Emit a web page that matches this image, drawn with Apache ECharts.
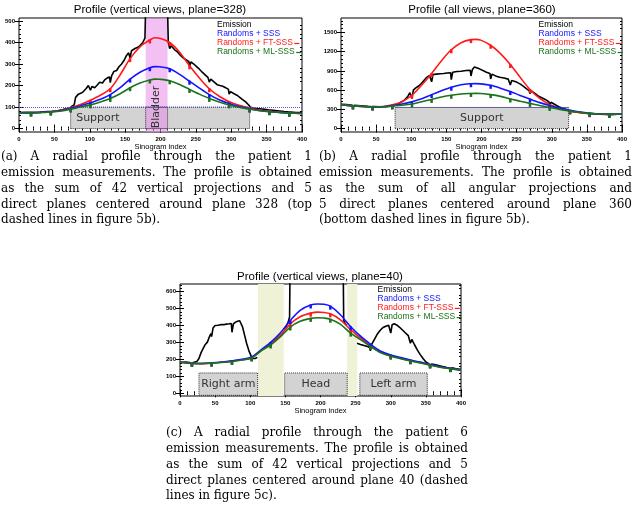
<!DOCTYPE html>
<html><head><meta charset="utf-8">
<script src="https://cdn.jsdelivr.net/npm/echarts@6/dist/echarts.min.js"></script>
<style>html,body{margin:0;padding:0;background:#fff}#c{width:635px;height:523px}</style>
</head><body><div id="c"></div>
<script>
// ---------- Plot (a) ----------
const titleA = 'Profile (vertical views, plane=328)';
const xModelA = [0,17,30,45,60,73,87,101,115,129,143,157,171,185,192,199,213,227,241,255,269,283,297,311,326,340,354,368,382,400];
const sssA = [72,73,75,78,84,94,106,120,136,158,190,230,262,283,288,287,278,252,220,188,158,134,116,102,92,84,79,75,72,70];
const ftA  = [72,73,75,78,86,97,112,132,155,185,250,325,380,412,422,420,400,355,292,235,185,150,125,108,95,86,80,76,72,70];
const mlA  = [72,72,74,77,82,90,100,110,123,140,162,190,212,226,230,229,222,205,182,160,140,124,110,99,90,83,78,75,72,70];
const gapsA = [17,45,73,101,129,157,185,213,241,269,297,326,354,382];
const emissionA = [[0,75],[10,76],[15,76],[17,69],[19,76],[30,77],[40,79],[44,79],[45,71],[47,80],[55,83],[62,88],[68,93],[72,95],[73,86],[75,104],[78,110],[80,145],[84,160],[88,165],[91,172],[95,186],[98,200],[100,196],[101,178],[103,196],[107,190],[110,200],[114,215],[118,212],[121,226],[125,236],[128,240],[129,214],[131,246],[134,265],[138,270],[141,286],[145,300],[149,320],[152,340],[155,352],[157,328],[159,362],[164,372],[168,378],[171,386],[175,400],[178,420],[180,700],[209,700],[211,400],[213,372],[215,385],[220,366],[224,356],[228,341],[232,329],[236,320],[240,312],[241,288],[243,310],[247,300],[251,288],[255,276],[259,262],[263,250],[267,238],[269,216],[271,230],[276,216],[280,204],[284,200],[288,197],[292,190],[296,182],[297,160],[299,172],[304,162],[308,155],[312,145],[316,135],[320,125],[324,112],[327,100],[330,95],[340,92],[350,88],[353,86],[354,79],[356,86],[365,83],[375,79],[381,77],[382,70],[384,77],[392,75],[400,74]];
const yMajorA = [0,100,200,300,400,500];

// ---------- Plot (b) ----------
const titleB = 'Profile (all views, plane=360)';
const xModelB = [0,17,30,45,60,73,87,101,115,129,143,157,171,185,192,199,213,227,241,255,269,283,297,311,326,340,354,368,382,400];
const sssB = [372,355,345,338,342,358,385,420,465,530,590,645,685,700,702,698,675,630,578,518,460,405,360,320,285,258,240,228,222,228];
const ftB  = [372,355,345,338,345,370,420,520,680,860,1060,1230,1340,1388,1392,1380,1300,1170,1000,800,610,470,375,315,275,248,232,225,222,228];
const mlB  = [372,355,345,337,340,352,365,385,420,455,492,520,540,548,550,547,530,503,462,428,393,360,330,300,275,255,238,228,222,228];
const gapsB = [17,45,73,101,129,157,185,213,241,269,297,326,354,382];
const emissionB = [[0,380],[8,374],[16,365],[17,325],[19,364],[28,356],[38,346],[44,342],[45,315],[47,342],[55,340],[62,341],[68,345],[72,348],[73,322],[75,355],[80,375],[85,410],[90,440],[95,500],[98,560],[100,575],[101,470],[103,600],[106,630],[110,660],[114,700],[118,750],[122,800],[126,830],[128,838],[129,730],[131,845],[136,850],[141,855],[146,860],[151,868],[156,872],[157,765],[159,880],[165,890],[171,895],[178,905],[184,910],[185,820],[187,920],[190,962],[193,950],[197,932],[202,905],[207,880],[212,860],[213,775],[215,850],[220,822],[226,802],[232,790],[238,772],[240,765],[241,680],[243,752],[250,725],[256,690],[262,640],[268,590],[269,545],[271,590],[277,542],[282,500],[288,470],[293,440],[296,415],[297,370],[299,410],[305,372],[310,342],[315,316],[320,296],[325,280],[326,250],[328,268],[335,258],[345,245],[353,236],[354,212],[356,234],[365,228],[375,224],[381,222],[382,200],[384,222],[392,224],[400,230]];
const yMajorB = [0,300,600,900,1200,1500];

// ---------- Plot (c) ----------
const titleC = 'Profile (vertical views, plane=40)';
const xModelC = [0,17,31,45,59,74,88,102,116,129,143,157,171,186,196,205,214,228,243,257,271,285,300,314,328,342,356,370,385,400];
const sssC = [183,177,176,180,185,192,200,214,258,300,357,430,490,521,527,525,514,465,393,337,290,250,226,211,196,184,170,157,147,138];
const ftC  = [183,177,175,178,183,190,198,210,255,292,343,410,452,473,479,477,469,435,375,327,280,244,222,207,193,181,168,155,146,137];
const mlC  = [183,176,175,178,182,188,196,208,252,285,334,391,425,442,446,444,437,408,355,317,277,241,219,204,191,179,166,154,145,136];
const gapsC = [17,45,74,102,129,157,186,214,243,271,300,328,356,385];
const emissionC = [[0,182],[8,185],[14,182],[17,166],[19,182],[24,188],[27,205],[30,240],[33,265],[36,288],[39,302],[42,335],[44,352],[45,335],[47,385],[50,400],[54,402],[58,405],[62,405],[66,408],[70,410],[73,412],[74,360],[76,410],[79,420],[82,425],[85,428],[87,420],[89,392],[92,342],[95,292],[98,252],[101,222],[102,205],[104,212],[107,205],[110,212],[111,'-'],[148,380],[151,395],[154,420],[156,450],[157,900],[232,900],[233,430],[235,412],[237,402],[238,'-'],[252,295],[257,288],[262,282],[267,276],[270,270],[271,250],[273,290],[277,320],[281,350],[285,372],[289,388],[293,396],[297,402],[299,400],[300,355],[302,405],[305,410],[309,402],[313,388],[317,372],[321,356],[325,340],[327,330],[328,295],[330,318],[334,285],[338,255],[342,228],[346,205],[350,185],[354,175],[356,158],[358,172],[364,168],[372,160],[380,152],[384,150],[385,133],[387,150],[393,145],[400,140]];
const yMajorC = [0,100,200,300,400,500,600];

const legendNames = ['Emission','Randoms + SSS','Randoms + FT-SSS','Randoms + ML-SSS'];

// Shaded regions (data coordinates)
const bladderA = {name:'Bladder', x0:179, x1:210};
const regionsB = [{name:'Support', x0:77, x1:324, y0:0, y1:330}];
const regionsC = [{name:'Right arm', x0:27, x1:110.5, y0:-12, y1:120},{name:'Head', x0:149, x1:238, y0:-12, y1:120},{name:'Left arm', x0:256, x1:352, y0:-12, y1:120}];
const excludedC = [{x0:111, x1:147.6},{x0:238, x1:252.4}];

// Captions
const captionA = ['(a)  A radial profile through the patient 1','emission measurements. The profile is obtained','as the sum of 42 vertical projections and 5','direct planes centered around plane 328 (top','dashed lines in figure 5b).'];
const captionB = ['(b)  A radial profile through the patient 1','emission measurements. The profile is obtained','as the sum of all angular projections and','5 direct planes centered around plane 360','(bottom dashed lines in figure 5b).'];
const captionC = ['(c)  A radial profile through the patient 6','emission measurements. The profile is obtained','as the sum of 42 vertical projections and 5','direct planes centered around plane 40 (dashed','lines in figure 5c).'];

// ---------- styling ----------
const SANS = '"Liberation Sans", Arial, sans-serif';
const BOXFONT = '"DejaVu Sans", sans-serif';
const CAP_FONT = '12px "DejaVu Serif", serif';
const LEG_FONT = '8.5px "Liberation Sans", Arial, sans-serif';
const BLUE = '#1414ff', RED = '#ff1a1a', GREEN = '#1a721a', BLACK = '#000000';
const GRAY = '#d3d3d3';

const grids = [
  {left:19, top:18, width:283, height:114},
  {left:341, top:18, width:281, height:114},
  {left:180, top:284, width:281, height:112}
];
const yRanges = [[-16,514],[-53,1725],[-16,645]];
const yMajors = [yMajorA, yMajorB, yMajorC];
const yMinorStep = [20, 60, 20];

const xAxes = [], yAxes = [];
grids.forEach((g, i) => {
  const tickBase = {inside:true, length:4, lineStyle:{color:'#000', width:1}};
  const minorBase = {show:true, splitNumber:5, length:2, lineStyle:{color:'#000', width:1}};
  xAxes.push({gridIndex:i, type:'value', min:0, max:400, interval:50, position:'bottom',
    name:'Sinogram index', nameLocation:'middle', nameGap:9,
    nameTextStyle:{fontSize:7.5, fontFamily:SANS, color:'#000'},
    axisLine:{show:false}, axisTick:tickBase, minorTick:minorBase,
    axisLabel:{fontSize:6, margin:4, color:'#000', fontFamily:SANS, fontWeight:'bold'},
    splitLine:{show:false}, minorSplitLine:{show:false}});
  xAxes.push({gridIndex:i, type:'value', min:0, max:400, interval:50, position:'top',
    axisLine:{show:false}, axisTick:tickBase, minorTick:minorBase,
    axisLabel:{show:false}, splitLine:{show:false}});
  const [mn, mx] = yRanges[i];
  const majors = yMajors[i];
  const minors = [];
  for (let v = 0; v <= mx; v += yMinorStep[i]) if (!majors.includes(v)) minors.push(v);
  const yb = {gridIndex:i, type:'value', min:mn, max:mx, axisLine:{show:false}, splitLine:{show:false}};
  yAxes.push(Object.assign({}, yb, {position:'left',
    axisTick:{inside:true, length:4, customValues:majors, lineStyle:{color:'#000'}},
    axisLabel:{customValues:majors, formatter:v => String(v), fontSize:6, margin:4, color:'#000', fontFamily:SANS, fontWeight:'bold'}}));
  yAxes.push(Object.assign({}, yb, {position:'right',
    axisTick:{inside:true, length:4, customValues:majors, lineStyle:{color:'#000'}}, axisLabel:{show:false}}));
  yAxes.push(Object.assign({}, yb, {position:'left',
    axisTick:{inside:true, length:2, customValues:minors, lineStyle:{color:'#000'}}, axisLabel:{show:false}}));
  yAxes.push(Object.assign({}, yb, {position:'right',
    axisTick:{inside:true, length:2, customValues:minors, lineStyle:{color:'#000'}}, axisLabel:{show:false}}));
});

function modelSeries(name, color, xs, ys, gaps, g, z) {
  return {type:'line', name, xAxisIndex:2*g, yAxisIndex:4*g, smooth:0.3, symbol:'none', z,
    lineStyle:{color, width:1.6}, itemStyle:{color},
    data: xs.map((x, k) => gaps.includes(x)
      ? {value:[x, ys[k]], symbol:'rect', symbolSize:[2.5,4], symbolOffset:[0,1.5]}
      : {value:[x, ys[k]]})};
}
function emissionSeries(data, g) {
  return {type:'line', name:'Emission', xAxisIndex:2*g, yAxisIndex:4*g, symbol:'none', z:3,
    connectNulls:false, lineStyle:{color:BLACK, width:1.6}, itemStyle:{color:BLACK}, data};
}
function boxItem(r) {
  return [{name:r.name, xAxis:r.x0, yAxis:r.y0,
    itemStyle:{color:GRAY, borderColor:'#333', borderWidth:1, borderType:'dotted'},
    label:{show:true, position:'inside', fontSize:11, fontFamily:BOXFONT, color:'#333'}},
    {xAxis:r.x1, yAxis:r.y1}];
}

const regionSeriesA = {type:'line', name:'regionsA', xAxisIndex:0, yAxisIndex:0, data:[], z:1,
  markArea:{silent:true, data:[
    [{name:'Support', xAxis:73, yAxis:0, itemStyle:{color:GRAY, borderColor:'#333', borderWidth:1, borderType:'dotted'},
      label:{show:true, position:'insideLeft', distance:6, fontSize:11, fontFamily:BOXFONT, color:'#333'}},
     {xAxis:326, yAxis:100}],
    [{name:'', xAxis:bladderA.x0, itemStyle:{color:'rgba(232,140,232,0.55)'}}, {xAxis:bladderA.x1}],
    [{name:'', xAxis:bladderA.x0, yAxis:0, itemStyle:{color:'rgba(0,0,0,0)', borderColor:'#333', borderWidth:1, borderType:'dotted'}}, {xAxis:bladderA.x1, yAxis:100}],
    [{name:bladderA.name, xAxis:bladderA.x0, yAxis:0, itemStyle:{color:'rgba(0,0,0,0)'},
      label:{show:true, position:'inside', rotate:90, fontSize:11, fontFamily:BOXFONT, color:'#333'}},
     {xAxis:bladderA.x1, yAxis:200}]
  ]},
  markLine:{silent:true, symbol:['none','none'], label:{show:false},
    lineStyle:{type:'dotted', color:'#5555cc', width:1}, data:[{yAxis:100}]}
};
const regionSeriesB = {type:'line', name:'regionsB', xAxisIndex:2, yAxisIndex:4, data:[], z:1,
  markArea:{silent:true, data: regionsB.map(boxItem)},
  markLine:{silent:true, symbol:['none','none'], label:{show:false},
    lineStyle:{type:'dotted', color:'#5555cc', width:1},
    data:[[{coord:[regionsB[0].x0, regionsB[0].y1]},{coord:[regionsB[0].x1, regionsB[0].y1]}]]}
};
const regionSeriesC = {type:'line', name:'regionsC', xAxisIndex:4, yAxisIndex:8, data:[], z:1,
  markArea:{silent:true, data: excludedC.map(r => [{name:'', xAxis:r.x0, itemStyle:{color:'#eff2d6'}}, {xAxis:r.x1}])
    .concat(regionsC.map(boxItem))}
};

const series = [
  regionSeriesA, emissionSeries(emissionA, 0),
  modelSeries('Randoms + FT-SSS', RED, xModelA, ftA, gapsA, 0, 4),
  modelSeries('Randoms + SSS', BLUE, xModelA, sssA, gapsA, 0, 5),
  modelSeries('Randoms + ML-SSS', GREEN, xModelA, mlA, gapsA, 0, 6),
  regionSeriesB, emissionSeries(emissionB, 1),
  modelSeries('Randoms + FT-SSS', RED, xModelB, ftB, gapsB, 1, 4),
  modelSeries('Randoms + SSS', BLUE, xModelB, sssB, gapsB, 1, 5),
  modelSeries('Randoms + ML-SSS', GREEN, xModelB, mlB, gapsB, 1, 6),
  regionSeriesC, emissionSeries(emissionC, 2),
  modelSeries('Randoms + FT-SSS', RED, xModelC, ftC, gapsC, 2, 4),
  modelSeries('Randoms + SSS', BLUE, xModelC, sssC, gapsC, 2, 5),
  modelSeries('Randoms + ML-SSS', GREEN, xModelC, mlC, gapsC, 2, 6)
];

const measureCtx = document.createElement('canvas').getContext('2d');
const legendColors = [BLACK, BLUE, RED, GREEN];
function legendElements(x, y0, dy) {
  measureCtx.font = LEG_FONT;
  const els = [];
  legendNames.forEach((n, k) => {
    const y = y0 + k * dy;
    els.push({type:'text', x, y, silent:true, z:10,
      style:{text:n, font:LEG_FONT, fill:legendColors[k], align:'left', verticalAlign:'middle'}});
    if (k >= 2) {
      const w = measureCtx.measureText(n).width;
      els.push({type:'line', silent:true, z:10,
        shape:{x1:x + w + 1.5, y1:y + 0.5, x2:x + w + 6.5, y2:y + 0.5},
        style:{stroke:legendColors[k], lineWidth:1.2}});
    }
  });
  return els;
}

function titleEl(text, x, y) {
  return {type:'text', x, y, silent:true, z:10,
    style:{text, font:'11.5px ' + SANS, fill:'#000', align:'center', verticalAlign:'middle'}};
}
function captionElements(lines, x0, x1, y0, dy) {
  measureCtx.font = CAP_FONT;
  const els = [];
  lines.forEach((line, i) => {
    const words = line.split(/\s+/);
    const w = words.map(t => measureCtx.measureText(t).width);
    const sum = w.reduce((a, b) => a + b, 0);
    const last = i === lines.length - 1;
    const gap = last ? measureCtx.measureText(' ').width : (x1 - x0 - sum) / (words.length - 1);
    let x = x0;
    words.forEach((t, k) => {
      els.push({type:'text', x, y:y0 + i * dy, silent:true,
        style:{text:t, font:CAP_FONT, fill:'#000', align:'left', verticalAlign:'middle'}});
      x += w[k] + gap;
    });
  });
  return els;
}

const graphics = [titleEl(titleA, 160, 10), titleEl(titleB, 482, 10), titleEl(titleC, 320, 277)]
  .concat(legendElements(217, 25, 9))
  .concat(legendElements(538.5, 25, 9))
  .concat(legendElements(377.5, 289.5, 9.2))
  .concat(captionElements(captionA, 1, 312, 157, 15.8))
  .concat(captionElements(captionB, 319, 632, 157, 15.8))
  .concat(captionElements(captionC, 166, 468, 433, 15.8));

const chart = echarts.init(document.getElementById('c'), null, {renderer:'canvas'});
chart.setOption({
  animation:false,
  backgroundColor:'#ffffff',
  grid: grids.map(g => Object.assign({show:true, borderColor:'#000', borderWidth:1, backgroundColor:'rgba(0,0,0,0)'}, g)),
  xAxis: xAxes,
  yAxis: yAxes,
  series,
  graphic: {elements: graphics}
});
</script>
</body></html>
